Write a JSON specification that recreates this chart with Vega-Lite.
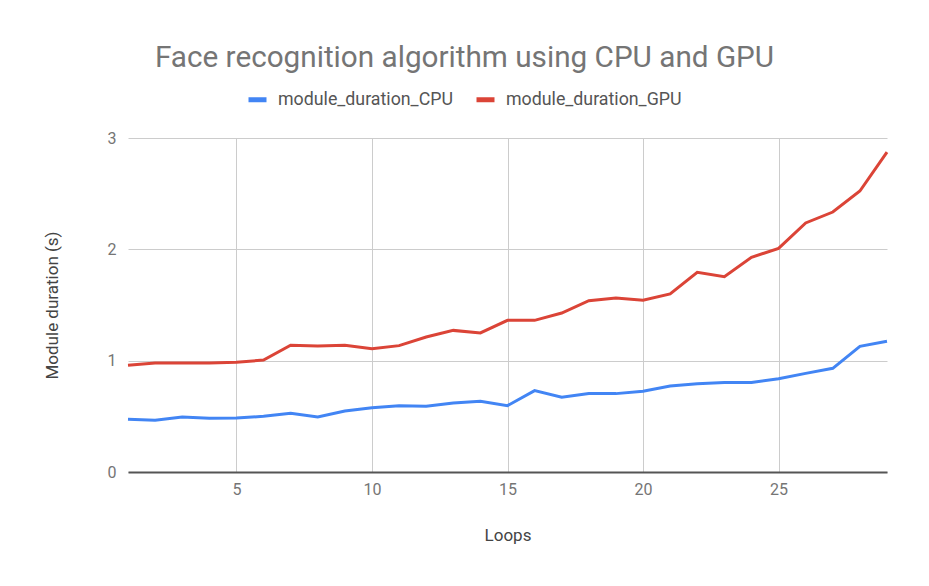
{
  "$schema": "https://vega.github.io/schema/vega-lite/v6.json",
  "width": 759,
  "height": 334,
  "autosize": {"type": "none"},
  "padding": {"left": 128, "top": 138, "right": 42, "bottom": 114},
  "background": "white",
  "config": {
    "font": "Roboto",
    "view": {"stroke": null},
    "axis": {"labelFont": "Roboto", "titleFont": "Roboto"}
  },
  "title": {
    "text": "Face recognition algorithm using CPU and GPU",
    "font": "Roboto",
    "fontSize": 29.7,
    "fontWeight": "normal",
    "color": "#757575",
    "anchor": "middle",
    "frame": "group",
    "dx": -43,
    "offset": 14
  },
  "data": {
    "values": [
      {"loop": 1, "series": "module_duration_CPU", "duration": 0.473},
      {"loop": 2, "series": "module_duration_CPU", "duration": 0.464},
      {"loop": 3, "series": "module_duration_CPU", "duration": 0.494},
      {"loop": 4, "series": "module_duration_CPU", "duration": 0.482},
      {"loop": 5, "series": "module_duration_CPU", "duration": 0.485},
      {"loop": 6, "series": "module_duration_CPU", "duration": 0.5},
      {"loop": 7, "series": "module_duration_CPU", "duration": 0.527},
      {"loop": 8, "series": "module_duration_CPU", "duration": 0.494},
      {"loop": 9, "series": "module_duration_CPU", "duration": 0.548},
      {"loop": 10, "series": "module_duration_CPU", "duration": 0.578},
      {"loop": 11, "series": "module_duration_CPU", "duration": 0.596},
      {"loop": 12, "series": "module_duration_CPU", "duration": 0.59},
      {"loop": 13, "series": "module_duration_CPU", "duration": 0.62},
      {"loop": 14, "series": "module_duration_CPU", "duration": 0.635},
      {"loop": 15, "series": "module_duration_CPU", "duration": 0.596},
      {"loop": 16, "series": "module_duration_CPU", "duration": 0.731},
      {"loop": 17, "series": "module_duration_CPU", "duration": 0.671},
      {"loop": 18, "series": "module_duration_CPU", "duration": 0.704},
      {"loop": 19, "series": "module_duration_CPU", "duration": 0.704},
      {"loop": 20, "series": "module_duration_CPU", "duration": 0.725},
      {"loop": 21, "series": "module_duration_CPU", "duration": 0.772},
      {"loop": 22, "series": "module_duration_CPU", "duration": 0.793},
      {"loop": 23, "series": "module_duration_CPU", "duration": 0.805},
      {"loop": 24, "series": "module_duration_CPU", "duration": 0.805},
      {"loop": 25, "series": "module_duration_CPU", "duration": 0.838},
      {"loop": 26, "series": "module_duration_CPU", "duration": 0.886},
      {"loop": 27, "series": "module_duration_CPU", "duration": 0.931},
      {"loop": 28, "series": "module_duration_CPU", "duration": 1.129},
      {"loop": 29, "series": "module_duration_CPU", "duration": 1.174},
      {"loop": 1, "series": "module_duration_GPU", "duration": 0.958},
      {"loop": 2, "series": "module_duration_GPU", "duration": 0.979},
      {"loop": 3, "series": "module_duration_GPU", "duration": 0.979},
      {"loop": 4, "series": "module_duration_GPU", "duration": 0.979},
      {"loop": 5, "series": "module_duration_GPU", "duration": 0.985},
      {"loop": 6, "series": "module_duration_GPU", "duration": 1.006},
      {"loop": 7, "series": "module_duration_GPU", "duration": 1.138},
      {"loop": 8, "series": "module_duration_GPU", "duration": 1.132},
      {"loop": 9, "series": "module_duration_GPU", "duration": 1.138},
      {"loop": 10, "series": "module_duration_GPU", "duration": 1.108},
      {"loop": 11, "series": "module_duration_GPU", "duration": 1.135},
      {"loop": 12, "series": "module_duration_GPU", "duration": 1.213},
      {"loop": 13, "series": "module_duration_GPU", "duration": 1.272},
      {"loop": 14, "series": "module_duration_GPU", "duration": 1.249},
      {"loop": 15, "series": "module_duration_GPU", "duration": 1.362},
      {"loop": 16, "series": "module_duration_GPU", "duration": 1.362},
      {"loop": 17, "series": "module_duration_GPU", "duration": 1.428},
      {"loop": 18, "series": "module_duration_GPU", "duration": 1.539},
      {"loop": 19, "series": "module_duration_GPU", "duration": 1.563},
      {"loop": 20, "series": "module_duration_GPU", "duration": 1.542},
      {"loop": 21, "series": "module_duration_GPU", "duration": 1.599},
      {"loop": 22, "series": "module_duration_GPU", "duration": 1.793},
      {"loop": 23, "series": "module_duration_GPU", "duration": 1.754},
      {"loop": 24, "series": "module_duration_GPU", "duration": 1.928},
      {"loop": 25, "series": "module_duration_GPU", "duration": 2.009},
      {"loop": 26, "series": "module_duration_GPU", "duration": 2.237},
      {"loop": 27, "series": "module_duration_GPU", "duration": 2.335},
      {"loop": 28, "series": "module_duration_GPU", "duration": 2.524},
      {"loop": 29, "series": "module_duration_GPU", "duration": 2.874}
    ]
  },
  "mark": {"type": "line", "strokeWidth": 3, "interpolate": "linear"},
  "encoding": {
    "x": {
      "field": "loop",
      "type": "quantitative",
      "scale": {"domain": [1, 29], "nice": false, "zero": false},
      "axis": {
        "values": [5, 10, 15, 20, 25],
        "title": "Loops",
        "titleFontSize": 17,
        "titleFontWeight": "normal",
        "titleColor": "#444444",
        "titlePadding": 30,
        "labelFontSize": 16,
        "labelColor": "#757575",
        "labelPadding": 9,
        "ticks": false,
        "domain": true,
        "domainColor": "#555555",
        "domainWidth": 2,
        "grid": true,
        "gridColor": "#cccccc",
        "gridWidth": 1
      }
    },
    "y": {
      "field": "duration",
      "type": "quantitative",
      "scale": {"domain": [0, 3], "nice": false},
      "axis": {
        "values": [0, 1, 2, 3],
        "title": "Module duration (s)",
        "titleFontSize": 17,
        "titleFontWeight": "normal",
        "titleColor": "#444444",
        "titlePadding": 46,
        "labelFontSize": 16,
        "labelColor": "#757575",
        "labelPadding": 12,
        "ticks": false,
        "domain": false,
        "grid": true,
        "gridColor": "#cccccc",
        "gridWidth": 1
      }
    },
    "color": {
      "field": "series",
      "type": "nominal",
      "scale": {
        "domain": ["module_duration_CPU", "module_duration_GPU"],
        "range": ["#4285F4", "#DB4437"]
      },
      "legend": {
        "orient": "none",
        "legendX": 118,
        "legendY": -50,
        "direction": "horizontal",
        "title": null,
        "symbolType": "stroke",
        "symbolSize": 324,
        "symbolStrokeWidth": 5,
        "labelFontSize": 17.8,
        "labelColor": "#555555",
        "labelFont": "Roboto",
        "labelLimit": 400,
        "labelOffset": 9,
        "columnPadding": 13
      }
    }
  }
}
